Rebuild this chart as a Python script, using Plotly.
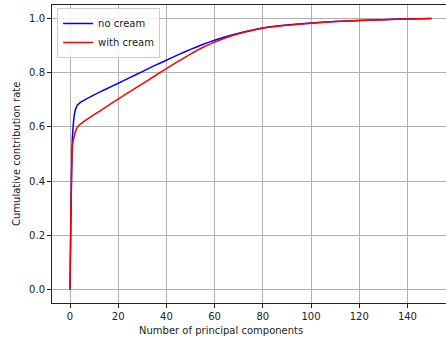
import plotly.graph_objects as go

# Data
components = [0, 1, 2, 3, 4, 5, 10, 15, 20, 25, 30, 35, 40, 45, 50, 55, 60, 65,
              70, 75, 80, 90, 100, 110, 120, 130, 140, 150]
no_cream = [0.0, 0.56, 0.655, 0.68, 0.688, 0.694, 0.718, 0.740, 0.761, 0.783,
            0.804, 0.826, 0.846, 0.867, 0.886, 0.904, 0.920, 0.934, 0.946,
            0.956, 0.965, 0.976, 0.984, 0.989, 0.993, 0.996, 0.998, 1.0]
with_cream = [0.0, 0.53, 0.575, 0.598, 0.608, 0.615, 0.645, 0.674, 0.703,
              0.731, 0.759, 0.787, 0.815, 0.843, 0.869, 0.893, 0.913, 0.930,
              0.944, 0.955, 0.964, 0.975, 0.983, 0.989, 0.993, 0.996, 0.998, 1.0]
x_ticks = [0, 20, 40, 60, 80, 100, 120, 140]
y_ticks = [0.0, 0.2, 0.4, 0.6, 0.8, 1.0]

font = dict(family="DejaVu Sans", size=10, color="#222222")

fig = go.Figure()
fig.add_trace(go.Scatter(x=components, y=no_cream, mode="lines", name="no cream",
                         line=dict(color="blue", width=1.5, shape="spline", smoothing=0.4)))
fig.add_trace(go.Scatter(x=components, y=with_cream, mode="lines", name="with cream",
                         line=dict(color="red", width=1.5, shape="spline", smoothing=0.4)))

axis_common = dict(showgrid=True, gridcolor="#b0b0b0", gridwidth=0.8,
                   zeroline=False, showline=True, linecolor="#222222", linewidth=1,
                   ticks="outside", ticklen=4, tickcolor="#222222", tickwidth=1,
                   tickfont=font, automargin=False)

fig.update_layout(
    width=446, height=340,
    margin=dict(l=52, r=0, t=5, b=37),
    paper_bgcolor="white", plot_bgcolor="white",
    font=font,
    xaxis=dict(range=[-7.47, 156.0], tickvals=x_ticks,
               ticktext=[str(v) for v in x_ticks], mirror=True,
               **axis_common),
    yaxis=dict(range=[-0.05, 1.05], tickvals=y_ticks,
               ticktext=[f"{v:.1f}" for v in y_ticks], mirror=False,
               **axis_common),
    legend=dict(x=0.013, y=0.99, xanchor="left", yanchor="top",
                bgcolor="rgba(255,255,255,0.8)", bordercolor="#cccccc", borderwidth=1,
                font=font, tracegroupgap=0, itemwidth=30),
    showlegend=True,
    annotations=[
        dict(text="Number of principal components", xref="paper", yref="paper",
             x=(221 - 52) / 394, y=(303 - 330) / 298, xanchor="center", yanchor="middle",
             showarrow=False, font=font),
        dict(text="Cumulative contribution rate", xref="paper", yref="paper",
             x=(16 - 52) / 394, y=(303 - 154) / 298, xanchor="center", yanchor="middle",
             textangle=-90, showarrow=False, font=font),
    ],
)

fig.write_html("out.html", config={"displayModeBar": False},
               post_script="document.body.style.margin='0';document.body.style.overflow='hidden';")
